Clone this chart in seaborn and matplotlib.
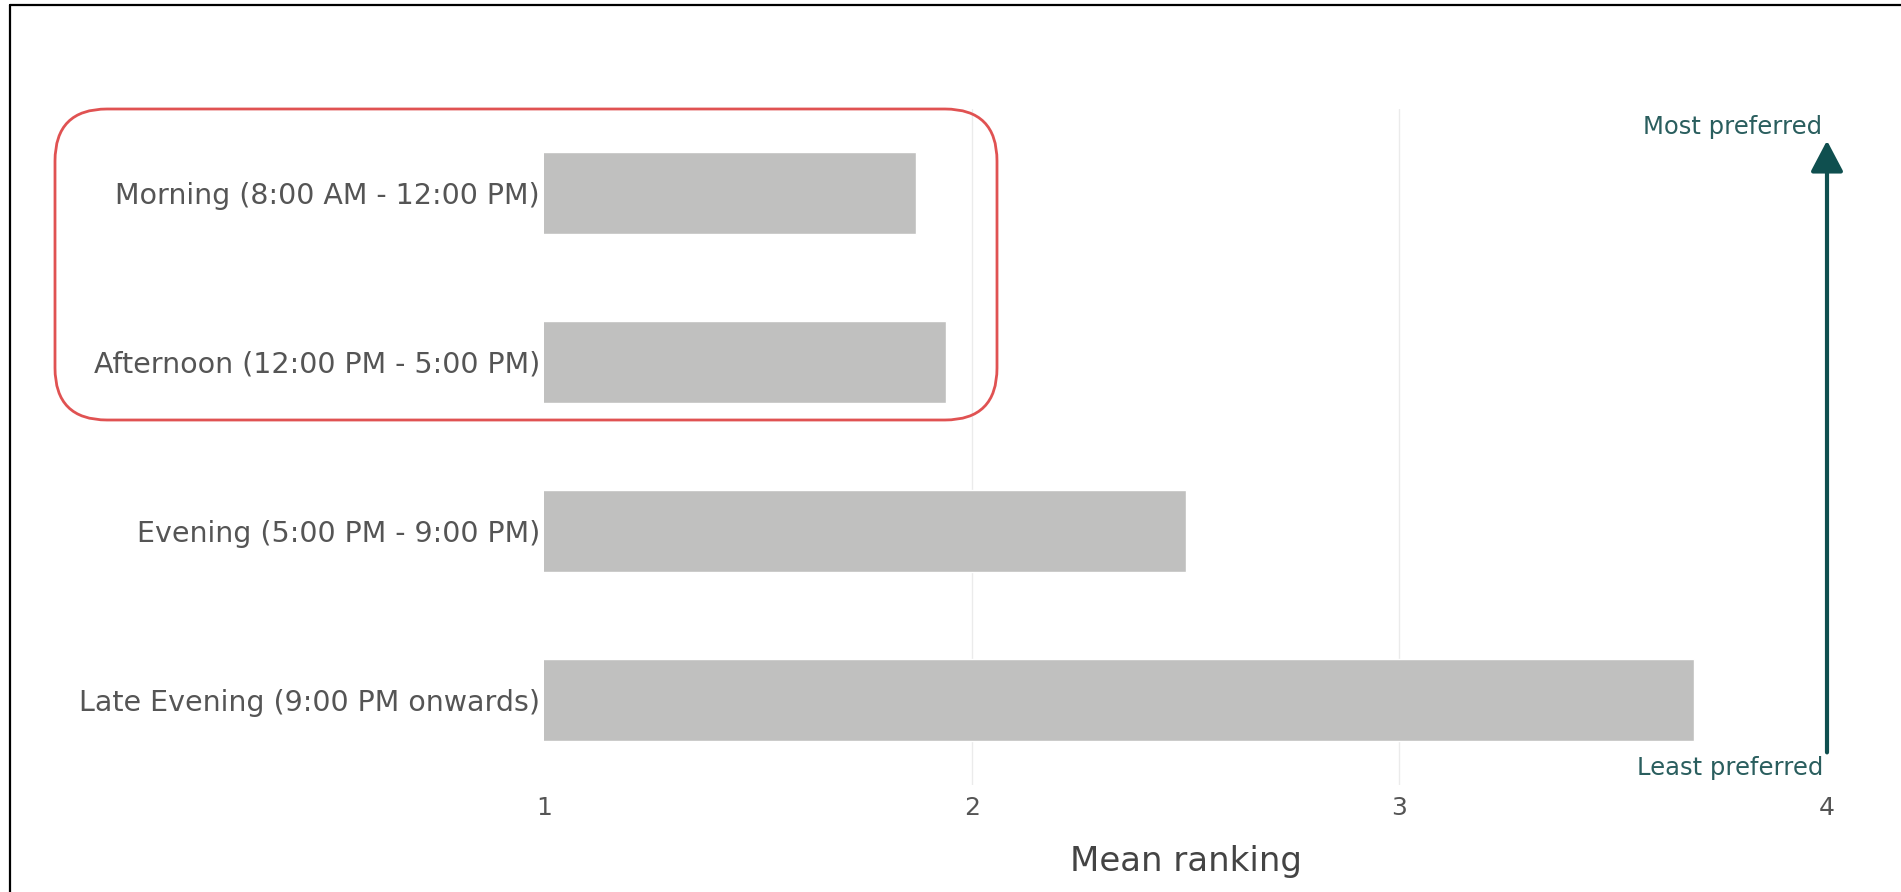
import matplotlib
matplotlib.use("Agg")
import matplotlib.pyplot as plt
from matplotlib.patches import FancyBboxPatch
from matplotlib.lines import Line2D
import seaborn as sns
import pandas as pd

# Time-of-day preference, mean ranking (1 = most preferred, 4 = least preferred)
time_slots = [
    "Morning (8:00 AM - 12:00 PM)",
    "Afternoon (12:00 PM - 5:00 PM)",
    "Evening (5:00 PM - 9:00 PM)",
    "Late Evening (9:00 PM onwards)",
]
mean_ranking = [1.87, 1.94, 2.50, 3.69]
x_ticks = [1, 2, 3, 4]

sns.set_theme(style="white")
plt.rcParams["font.family"] = ["DejaVu Sans"]

df = pd.DataFrame({"slot": time_slots, "rank": mean_ranking})

W, H = 1901, 892
fig = plt.figure(figsize=(W / 100, H / 100), dpi=100)
fig.patch.set_facecolor("white")

left, right, top, bottom = 544, 1827, 108.5, 784.5
ax = fig.add_axes([left / W, 1 - bottom / H, (right - left) / W, (bottom - top) / H])

sns.barplot(data=df, x="rank", y="slot", color="#c0c0bf", width=0.49,
            saturation=1, ax=ax, zorder=2)

ax.set_xlim(1, 4)
ax.set_ylim(3.5, -0.5)
ax.set_xticks(x_ticks)
ax.set_xticklabels([str(t) for t in x_ticks])
ax.tick_params(axis="x", length=0, pad=8, labelsize=18, labelcolor="#555555")
ax.tick_params(axis="y", length=0, pad=3, labelsize=20.5, labelcolor="#555555")
ax.set_ylabel("")
ax.set_xlabel("Mean ranking", fontsize=24.5, color="#444444", labelpad=18)

ax.xaxis.grid(True, color="#ebebeb", linewidth=1.0, zorder=0)
ax.set_axisbelow(True)
gl = ax.get_xgridlines()
gl[0].set_visible(False)
gl[-1].set_visible(False)
for s in ax.spines.values():
    s.set_visible(False)

# preference direction arrow along the right edge
teal = "#0f4f4f"
ax.annotate("", xy=(4, -0.31), xytext=(4, 3.31), xycoords="data",
            arrowprops=dict(arrowstyle="-|>,head_length=0.95,head_width=0.5",
                            mutation_scale=20, color=teal, lw=3,
                            shrinkA=0, shrinkB=0),
            annotation_clip=False)
fig.text(1822 / W, 1 - 127 / H, "Most preferred", ha="right", va="center",
         fontsize=17.5, color="#2a5e5e")
fig.text(1823 / W, 1 - 768 / H, "Least preferred", ha="right", va="center",
         fontsize=17.5, color="#2a5e5e")

# highlight box around the daytime slots (display/pixel coordinates)
box = FancyBboxPatch((55, H - 420), 942, 311,
                     boxstyle="round,pad=0,rounding_size=52",
                     transform=None, fill=False, edgecolor="#e05252",
                     linewidth=2.0, zorder=5)
fig.patches.append(box)

# frame lines on top and left
fig.lines.append(Line2D([10, W], [H - 5, H - 5], transform=None,
                        color="black", linewidth=1.6))
fig.lines.append(Line2D([10, 10], [H - 5, 0], transform=None,
                        color="black", linewidth=1.6))

fig.savefig("out.png", dpi=100, facecolor="white")
